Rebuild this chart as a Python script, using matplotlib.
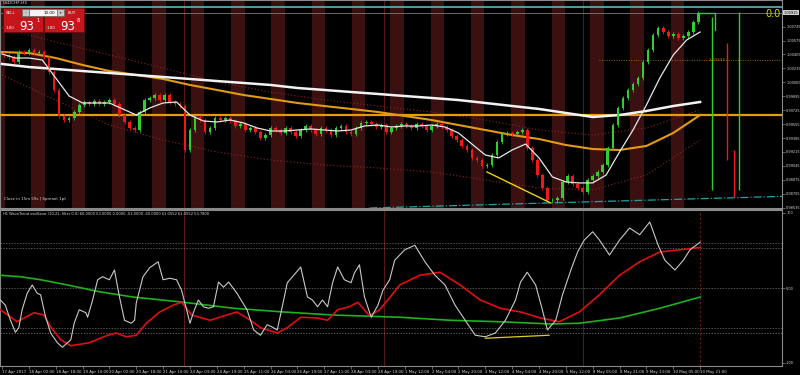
import datetime as dt

import numpy as np
import matplotlib
matplotlib.use('Agg')
import matplotlib.pyplot as plt
from matplotlib.patches import Rectangle

# ---------------- data ----------------
# USDCHF H1, first bar 17 Apr 2017 10:00, last bar 10 May 2017 21:00
first_bar = dt.datetime(2017, 4, 17, 10)
last_bar = dt.datetime(2017, 5, 10, 21)

tick_labels = [
    '17 Apr 2017', '18 Apr 02:00', '18 Apr 18:00', '19 Apr 10:00',
    '20 Apr 02:00', '20 Apr 18:00', '21 Apr 10:00', '24 Apr 03:00',
    '24 Apr 19:00', '25 Apr 11:00', '26 Apr 03:00', '26 Apr 19:00',
    '27 Apr 11:00', '28 Apr 03:00', '28 Apr 19:00', '1 May 12:00',
    '2 May 04:00', '2 May 20:00', '3 May 12:00', '4 May 04:00',
    '4 May 20:00', '5 May 12:00', '8 May 05:00', '8 May 21:00',
    '9 May 13:00', '10 May 05:00', '10 May 21:00'
]

price_ticks = [1.00745, 1.00575, 1.00405, 1.00235, 1.00065, 0.99895, 0.99725,
               0.99555, 0.99385, 0.99215, 0.99045, 0.98875, 0.98705, 0.98535]

# closes of 3-hour blocks (each drawn as one candle)
first_open = 1.00410
closes = [
    1.00399, 1.00374, 1.00313, 1.00435, 1.00423, 1.00460, 1.00423, 1.00435,
    1.00374, 1.00191, 0.99972, 0.99654, 0.99605, 0.99630, 0.99703, 0.99788,
    0.99825, 0.99801, 0.99837, 0.99801, 0.99825, 0.99849, 0.99801, 0.99666,
    0.99581, 0.99508, 0.99483, 0.99703, 0.99849, 0.99874, 0.99910, 0.99849,
    0.99910, 0.99825, 0.99801, 0.99776, 0.99239, 0.99483, 0.99642, 0.99605,
    0.99459, 0.99508, 0.99630, 0.99605, 0.99630, 0.99593, 0.99532, 0.99557,
    0.99483, 0.99508, 0.99459, 0.99386, 0.99422, 0.99508, 0.99483, 0.99447,
    0.99508, 0.99459, 0.99410, 0.99483, 0.99532, 0.99483, 0.99434, 0.99508,
    0.99483, 0.99422, 0.99508, 0.99532, 0.99459, 0.99434, 0.99508, 0.99569,
    0.99581, 0.99557, 0.99520, 0.99544, 0.99459, 0.99508, 0.99532, 0.99557,
    0.99532, 0.99508, 0.99557, 0.99532, 0.99483, 0.99532, 0.99557, 0.99520,
    0.99483, 0.99410, 0.99361, 0.99288, 0.99239, 0.99142, 0.99117, 0.99044,
    0.99056, 0.99178, 0.99337, 0.99434, 0.99447, 0.99434, 0.99459, 0.99483,
    0.99264, 0.99117, 0.98934, 0.98775, 0.98629, 0.98629, 0.98653, 0.98849,
    0.98922, 0.98824, 0.98775, 0.98727, 0.98873, 0.98922, 0.98971, 0.99056,
    0.99264, 0.99544, 0.99752, 0.99874, 0.99972, 1.00045, 1.00118, 1.00313,
    1.00460, 1.00643, 1.00728, 1.00679, 1.00631, 1.00655, 1.00606, 1.00631,
    1.00679, 1.00801, 1.00911,
]

# long moving averages, every 16 bars
ma_long_idx = list(range(0, 417, 16))
ma_white = [1.00289, 1.00252, 1.00228, 1.00203, 1.00179, 1.00155, 1.00130,
            1.00106, 1.00081, 1.00057, 1.00033, 0.99996, 0.99972, 0.99947,
            0.99923, 0.99898, 0.99874, 0.99849, 0.99813, 0.99776, 0.99740,
            0.99691, 0.99642, 0.99666, 0.99715, 0.99776, 0.99825]
ma_orange = [1.00435, 1.00423, 1.00362, 1.00277, 1.00203, 1.00155, 1.00106,
             1.00033, 0.99972, 0.99910, 0.99862, 0.99813, 0.99776, 0.99740,
             0.99703, 0.99654, 0.99605, 0.99544, 0.99483, 0.99422, 0.99373,
             0.99300, 0.99251, 0.99239, 0.99288, 0.99447, 0.99666]

# short moving average, every 8 bars
ma_short_idx = list(range(0, 417, 8))
ma_short = [1.00411, 1.00362, 1.00362, 1.00338, 1.00118, 0.99898, 0.99813,
            0.99813, 0.99813, 0.99740, 0.99666, 0.99752, 0.99813, 0.99825,
            0.99666, 0.99593, 0.99581, 0.99605, 0.99569, 0.99508, 0.99471,
            0.99471, 0.99483, 0.99496, 0.99483, 0.99471, 0.99483, 0.99532,
            0.99544, 0.99520, 0.99532, 0.99532, 0.99544, 0.99520, 0.99447,
            0.99312, 0.99178, 0.99142, 0.99239, 0.99312, 0.99142, 0.98910,
            0.98849, 0.98837, 0.98837, 0.98934, 0.99215, 0.99483, 0.99788,
            1.00118, 1.00399, 1.00582, 1.00679]

# dotted envelopes, every 32 bars
env_idx = list(range(0, 417, 32))
env_upper = [1.00728, 1.00558, 1.00399, 1.00240, 1.00069, 0.99947, 0.99849,
             0.99776, 0.99703, 0.99605, 0.99483, 0.99422, 0.99508, 0.99728]
env_lower = [1.00155, 0.99849, 0.99544, 0.99361, 0.99215, 0.99117, 0.99056,
             0.99020, 0.98971, 0.98873, 0.98775, 0.98751, 0.98934, 0.99361]

level_orange = 0.99666
level_pending = 1.00333
ask_price = 1.00985
bid_price = 1.00915
trend_cyan_idx = [219, 465]
trend_cyan_px = [0.98531, 0.98673]
trend_yellow_idx = [289, 327]
trend_yellow_px = [0.98971, 0.98592]

# broken bars after the last one
spike_idx = [423, 432, 436, 439]
spike_hi = [1.00863, 1.00545, 0.99239, 1.00924]
spike_lo = [0.98751, 0.99117, 0.98666, 0.98751]
spike_up = [True, False, False, True]
step_idx = [416, 425, 425]
step_px = [1.00915, 1.00915, 1.00704]

# WaveTrend oscillator
wt_idx = [-1, 2, 5, 8, 10, 12, 15, 18, 21, 23, 26, 29, 33, 36, 41, 43, 46, 50,
          51, 54, 57, 60, 62, 64, 67, 70, 73, 77, 79, 80, 84, 88, 93, 96, 100,
          104, 107, 110, 112, 114, 117, 120, 123, 126, 129, 132, 135, 140, 146,
          150, 154, 158, 161, 164, 167, 170, 175, 178, 182, 185, 188, 191, 194,
          197, 200, 204, 208, 210, 213, 216, 220, 224, 227, 231, 234, 237, 240,
          246, 252, 258, 264, 270, 276, 282, 288, 294, 300, 306, 309, 313, 318,
          322, 325, 330, 334, 339, 343, 347, 352, 356, 362, 368, 374, 380, 386,
          391, 395, 401, 406, 410, 416]
wt_fast = [-16, -23, -43, -59, -53, -29, -7, 4, -7, -9, -39, -60, -73, -79, -69,
           -47, -29, -33, -39, -16, 11, 15, 13, 11, 24, -12, -43, -47, -43, -20,
           15, 27, 35, 11, 13, 11, -3, -29, -47, -33, -16, -25, -27, -25, 8, 1,
           8, -7, -29, -56, -63, -49, -52, -56, -25, 7, 20, 28, -12, -16, -25,
           -16, -25, 7, 28, 11, 7, 20, 31, -12, -39, -23, -3, 11, 37, 44, 51,
           57, 35, 17, 4, -23, -43, -63, -65, -60, -43, -16, 8, 21, 4, -29, -56,
           -43, -9, 24, 48, 64, 75, 64, 44, 64, 80, 71, 88, 57, 37, 24, 37, 51,
           61]
sig_idx = [-1, 9, 19, 25, 29, 35, 41, 52, 63, 68, 74, 80, 86, 94, 102, 107, 113,
           124, 134, 140, 148, 154, 164, 170, 178, 188, 194, 200, 207, 212, 219,
           225, 231, 237, 249, 261, 273, 285, 297, 309, 321, 332, 344, 356, 368,
           380, 392, 404, 416]
wt_signal = [-29, -45, -33, -36, -52, -69, -77, -73, -63, -60, -65, -63, -47,
             -32, -23, -19, -36, -43, -36, -32, -43, -53, -60, -53, -39, -40,
             -43, -29, -25, -19, -37, -29, -13, 4, 17, 21, 4, -16, -27, -32,
             -40, -45, -32, -9, 17, 35, 48, 51, 54]
slow_idx = [-1, 11, 23, 39, 58, 78, 108, 138, 168, 197, 237, 267, 297, 327, 344,
            368, 392, 416]
wt_slow = [17, 15, 11, 4, -5, -12, -19, -27, -32, -36, -39, -43, -45, -48, -47,
           -40, -27, -12]
osc_levels = [60, 53, 0, -53, -60]
div_idx = [288, 326]
div_val = [-67, -63]

# ---------------- layout ----------------
W, H = 800, 375
right_px = 782
x_left = -1.2
x_right = 464.8
p_top, p_bot = 1.01070, 0.98531

bars = []
t = first_bar
while t <= last_bar:
    if t.weekday() < 4 or (t.weekday() == 4 and t.hour <= 22):
        bars.append(t)
    t += dt.timedelta(hours=1)
hours = np.array([b.hour for b in bars])
week_starts = [i for i, b in enumerate(bars) if b.weekday() == 0 and b.hour == 0]

bg = 'black'
band_color = '#3b1010'
sep_color = '#561818'
axis_color = '#8a8a8a'
text_color = '#d8d8d8'
up_color = '#2fcf2f'
down_color = '#f01818'
env_color = '#8c2626'

fig = plt.figure(figsize=(W / 100, H / 100), dpi=100, facecolor=bg)
ax = fig.add_axes([0, 1 - 208 / H, right_px / W, 208 / H])
osc = fig.add_axes([0, 1 - 366 / H, right_px / W, 156 / H])

for a in (ax, osc):
    a.set_facecolor(bg)
    a.set_xlim(x_left, x_right)
    for s in a.spines.values():
        s.set_color(axis_color)
        s.set_linewidth(0.8)
    a.yaxis.tick_right()
    a.tick_params(axis='y', colors=axis_color, labelcolor=text_color,
                  labelsize=2.5, length=2, width=0.5, pad=1)
    for w in week_starts:
        a.axvline(w - 0.5, color=sep_color, lw=0.8, zorder=1)

# session bands (04:00 - 11:00)
in_band = (hours >= 4) & (hours <= 11)
start = None
for i, flag in enumerate(list(in_band) + [False]):
    if flag and start is None:
        start = i
    elif not flag and start is not None:
        ax.axvspan(start - 0.5, i - 0.5, color=band_color, lw=0, zorder=0)
        start = None

ax.set_ylim(p_bot, p_top)
ax.set_yticks(price_ticks)
ax.set_yticklabels(['%.5f' % p for p in price_ticks])
ax.set_xticks([])

# levels and trend lines
ax.axhline(level_orange, color='#e69a10', lw=1.6, zorder=3)
ax.axhline(ask_price, color='#5cb8b8', lw=1.2, zorder=3)
ax.axhline(bid_price, color='#7a7a7a', lw=0.6, zorder=3)
ax.plot([356, x_right], [level_pending, level_pending], color='#a06010',
        lw=0.7, ls=(0, (1, 1.5)), zorder=3)
ax.text(421, level_pending, '1.00333', color='#c88010', fontsize=3,
        va='center', zorder=4)
ax.plot(trend_cyan_idx, trend_cyan_px, color='#1aa5a5', lw=0.9, ls='-.', zorder=3)
ax.plot(trend_yellow_idx, trend_yellow_px, color='#e8d420', lw=1.0, zorder=6)

# envelopes and moving averages
ax.plot(env_idx, env_upper, color=env_color, lw=0.8, ls=(0, (1, 2)), zorder=2)
ax.plot(env_idx, env_lower, color=env_color, lw=0.8, ls=(0, (1, 2)), zorder=2)
ax.plot(ma_long_idx, ma_orange, color='#e39b12', lw=1.5, zorder=4)
ax.plot(ma_long_idx, ma_white, color='#f2f2f2', lw=1.8, zorder=4)

# candles
c = np.array(closes)
o = np.r_[first_open, c[:-1]]
cx = 1 + 3 * np.arange(len(c))
cols = np.where(c >= o, up_color, down_color)
wick = 0.00025
ax.vlines(cx, np.minimum(o, c) - wick, np.maximum(o, c) + wick, colors=cols,
          lw=0.6, zorder=5)
body = np.maximum(np.abs(c - o), 0.00004)
ax.bar(cx, body, bottom=np.minimum(o, c), width=1.6, color=cols, lw=0, zorder=5)

ax.plot(ma_short_idx, ma_short, color='#e8e8e8', lw=0.9, zorder=6)

# broken bars to the right of the last candle
ax.vlines(spike_idx, spike_lo, spike_hi,
          colors=[up_color if u else down_color for u in spike_up], lw=1.0, zorder=5)
ax.plot(step_idx, step_px, color=up_color, lw=1.0, zorder=5)

ax.text(0.005, 0.035, 'Close in 15m 59s | Spread: 1pt', transform=ax.transAxes,
        color=text_color, fontsize=2.9, va='bottom')

# ---------------- oscillator ----------------
osc.set_ylim(-104, 104)
osc.set_yticks([100, 0, -100])
osc.set_yticklabels(['100', '0.00', '-100'])
for lv in osc_levels:
    osc.axhline(lv, color='#777777', lw=0.5, ls=(0, (2, 2)), zorder=1)
osc.axvline(416, color='#6a1c1c', lw=0.8, ls=(0, (2, 2)), zorder=1)
osc.plot(slow_idx, wt_slow, color='#1fb01f', lw=1.2, zorder=3)
osc.plot(sig_idx, wt_signal, color='#e01010', lw=1.2, zorder=4)
osc.plot(wt_idx, wt_fast, color='#c8c8c8', lw=0.8, zorder=5)
osc.plot(div_idx, div_val, color='#e0d020', lw=0.9, zorder=6)

osc.set_xticks(ma_long_idx)
osc.set_xticklabels(tick_labels, ha='left')
osc.tick_params(axis='x', colors=axis_color, labelcolor=text_color,
                labelsize=2.8, length=2, width=0.5, pad=1)
osc.text(0.004, 0.985,
         'H1 WaveTrend oscillator (10,21, filter 0.0) 60.0000 53.0000 0.0000 '
         '-53.0000 -60.0000 61.0552 61.0552 53.7800',
         transform=osc.transAxes, color=text_color, fontsize=2.6, va='top')

# ---------------- overlay: title, trade panel, labels ----------------
ov = fig.add_axes([0, 0, 1, 1], facecolor='none')
ov.set_xlim(0, W)
ov.set_ylim(H, 0)
ov.axis('off')

ov.text(3, 1, 'USDCHF,H1', color=text_color, fontsize=3.2, va='top')
for x0 in (3, 44):
    ov.add_patch(Rectangle((x0, 8), 40, 24, facecolor='#c4161b',
                           edgecolor='#6e0a0a', lw=0.6, zorder=2))
ov.add_patch(Rectangle((22, 9), 42, 7, facecolor='#f4f4f4',
                       edgecolor='#606060', lw=0.5, zorder=3))
for x0 in (22, 57):
    ov.add_patch(Rectangle((x0, 9), 7, 7, facecolor='#c8c8c8',
                           edgecolor='#606060', lw=0.5, zorder=4))
ov.text(25.5, 12.5, '-', fontsize=3, ha='center', va='center', zorder=5)
ov.text(60.5, 12.5, '+', fontsize=3, ha='center', va='center', zorder=5)
ov.text(55, 12.7, '10.00', fontsize=3, ha='right', va='center', zorder=5)
ov.text(6, 12.5, 'SELL', color='white', fontsize=3, va='center', zorder=5)
ov.text(68, 12.5, 'BUY', color='white', fontsize=3, va='center', zorder=5)
ov.text(6, 28, '1.00', color='white', fontsize=2.8, va='center', zorder=5)
ov.text(47, 28, '1.00', color='white', fontsize=2.8, va='center', zorder=5)
ov.text(19, 30.5, '93', color='white', fontsize=8.5, va='baseline', zorder=5)
ov.text(60, 30.5, '93', color='white', fontsize=8.5, va='baseline', zorder=5)
ov.text(36, 20.5, '1', color='white', fontsize=3.5, va='center', zorder=5)
ov.text(77, 20.5, '8', color='white', fontsize=3.5, va='center', zorder=5)

ov.text(765, 14, '0.0', color='#d8d800', fontsize=7, va='center')
ov.text(784, 12.7, '%.5f' % bid_price, color='black', fontsize=2.5, va='center',
        bbox=dict(boxstyle='square,pad=0.15', fc='#d0d0d0', ec='none'))
ov.plot([0, right_px], [209, 209], color=axis_color, lw=0.8)

fig.savefig('out.png', dpi=100, facecolor=bg)
